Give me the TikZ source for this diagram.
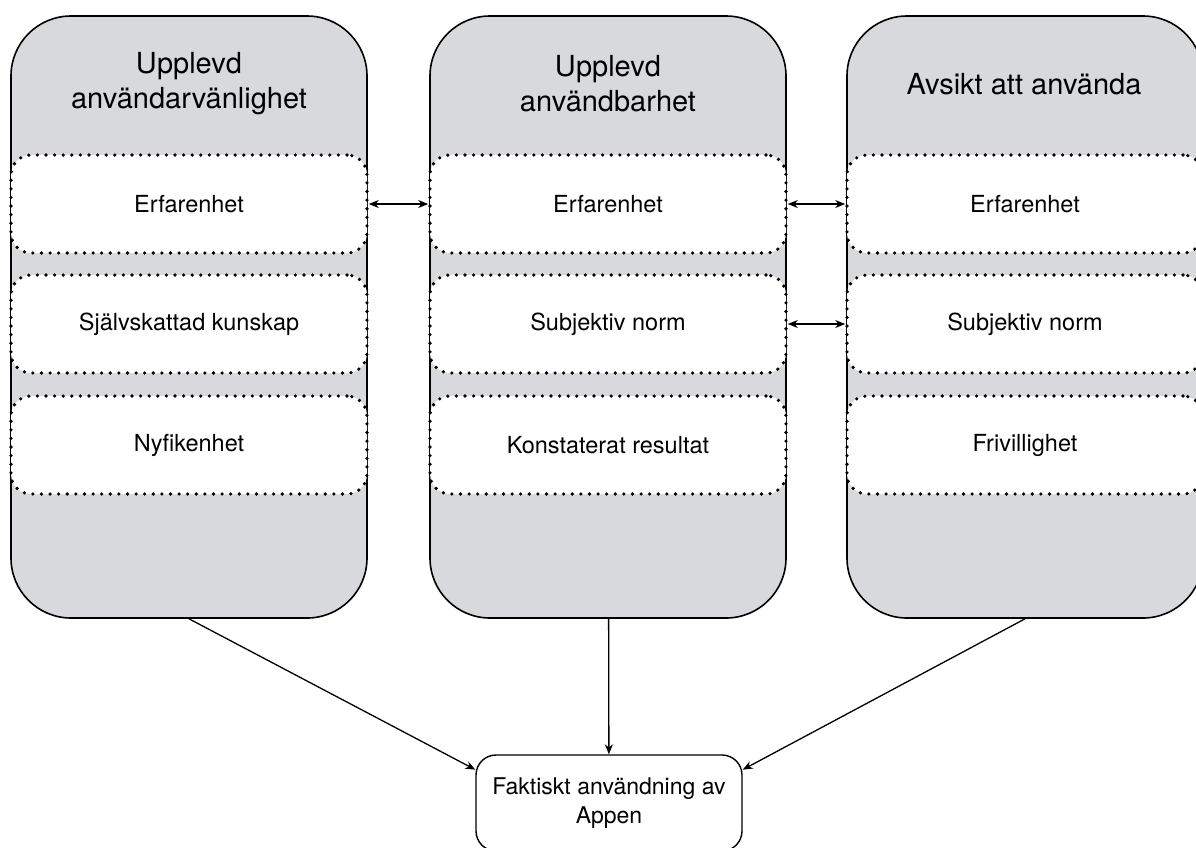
\documentclass[tikz,border=0pt]{standalone}
\usepackage{fontspec}
\setmainfont{TeX Gyre Heros}
\usetikzlibrary{arrows.meta}
\definecolor{colgray}{HTML}{D8D9DC}

\begin{document}
\begin{tikzpicture}[x=1pt,y=-1pt,>={Stealth[length=10pt,width=8pt]}]
    \tikzstyle{column}=[draw,line width=1.6pt,rounded corners=60pt,fill=colgray,minimum width=356pt,minimum height=602pt,inner sep=0pt];
    \tikzstyle{factor}=[draw,fill=white,line width=3.6pt,line cap=round,dash pattern=on 0pt off 8.6pt,rounded corners=20pt,minimum width=356pt,minimum height=98pt,font=\fontsize{23.5}{28}\selectfont];
    \tikzstyle{heading}=[align=center,font=\fontsize{29}{35}\selectfont];
    \tikzstyle{result}=[draw,line width=1.4pt,rounded corners=20pt,fill=white,minimum width=266pt,minimum height=96pt,align=center,font=\fontsize{23}{29}\selectfont];
    \tikzstyle{link}=[line width=1.3pt];
    \useasboundingbox (0,0) rectangle (1196,847);
    \clip (0,0) rectangle (1196,847);

    \node (1) [column] at (189,317) {};
    \node (2) [column] at (608,317) {};
    \node (3) [column] at (1025,317) {};

    \node (1t) [heading] at (189,84) {Upplevd\\användarvänlighet};
    \node (2t) [heading] at (608,84) {Upplevd\\användbarhet};
    \node (3t) [heading] at (1024,84) {Avsikt att använda};

    \node (1a) [factor] at (189,204) {Erfarenhet};
     \node (1b) [factor] at (189,324) {Självskattad kunskap};
     \node (1c) [factor] at (189,445) {Nyfikenhet};

    \node (2a) [factor] at (608,204) {Erfarenhet};
     \node (2b) [factor] at (608,324) {Subjektiv norm};
     \node (2c) [factor] at (608,445) {Konstaterat resultat};

    \node (3a) [factor] at (1025,204) {Erfarenhet};
     \node (3b) [factor] at (1025,324) {Subjektiv norm};
     \node (3c) [factor] at (1025,445) {Frivillighet};

    \node (4) [result] at (609,803) {Faktiskt användning av\\Appen};

    \path[link] (1a) edge[<->] (2a) (2a) edge[<->] (3a) (2b) edge[<->]
    (3b) (1.south) edge[->] (4.166) (2) edge[->] (4) (3.south) edge[->]
    (4.14);
  \end{tikzpicture}
\end{document}
